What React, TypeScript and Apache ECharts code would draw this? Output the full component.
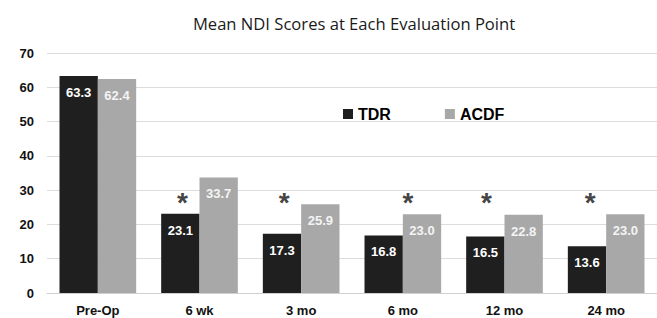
import React, { useEffect, useRef } from "react";
import * as echarts from "echarts";

const categories = ["Pre-Op", "6 wk", "3 mo", "6 mo", "12 mo", "24 mo"];
const tdrValues = [63.3, 23.1, 17.3, 16.8, 16.5, 13.6];
const acdfValues = [62.4, 33.7, 25.9, 23.0, 22.8, 23.0];
const significantPoints = ["6 wk", "3 mo", "6 mo", "12 mo", "24 mo"];
const asteriskLevel = 26.3;
const asteriskShift = [-17, -17, 5, -18, -16];

export default function App() {
  const ref = useRef<HTMLDivElement>(null);
  useEffect(() => {
    if (!ref.current) return;
    const chart = echarts.init(ref.current, null, { renderer: "svg" });
    chart.setOption({
      animation: false,
      backgroundColor: "#ffffff",
      title: {
        text: "Mean NDI Scores at Each Evaluation Point",
        left: 349,
        top: 10,
        textAlign: "center",
        textStyle: { fontFamily: "Open Sans", fontSize: 16.6, fontWeight: "normal", color: "#1a1a1a" },
      },
      legend: {
        data: ["TDR", "ACDF"],
        left: 338,
        top: 101,
        icon: "rect",
        itemWidth: 10,
        itemHeight: 10,
        itemGap: 54,
        textStyle: { fontFamily: "Liberation Sans", fontSize: 16, fontWeight: 700, color: "#000" },
      },
      grid: { left: 47, right: 0, top: 53, bottom: 25 },
      xAxis: {
        type: "category",
        data: categories,
        axisLine: { show: true, lineStyle: { color: "#d0d0d0" } },
        axisTick: { show: false },
        axisLabel: {
          margin: 11,
          fontFamily: "Liberation Sans",
          fontSize: 13,
          fontWeight: "bold",
          color: "#111",
        },
      },
      yAxis: {
        type: "value",
        min: 0,
        max: 70,
        interval: 10,
        axisLine: { show: false },
        axisTick: { show: false },
        splitLine: { lineStyle: { color: "#dcdcdc" } },
        axisLabel: {
          margin: 13,
          fontFamily: "Liberation Sans",
          fontSize: 13,
          fontWeight: "bold",
          color: "#111",
        },
      },
      series: [
        {
          name: "TDR",
          type: "bar",
          data: tdrValues,
          barGap: "0%",
          barCategoryGap: "24.6%",
          itemStyle: { color: "#1f1f1f" },
          label: {
            show: true,
            position: "insideTop",
            distance: 10,
            formatter: (p: any) => p.value.toFixed(1),
            fontFamily: "Liberation Sans",
            fontSize: 13,
            fontWeight: "bold",
            color: "#ffffff",
          },
        },
        {
          name: "ACDF",
          type: "bar",
          data: acdfValues,
          barGap: "0%",
          barCategoryGap: "24.6%",
          itemStyle: { color: "#a8a8a8" },
          label: {
            show: true,
            position: "insideTop",
            distance: 10,
            formatter: (p: any) => p.value.toFixed(1),
            fontFamily: "Liberation Sans",
            fontSize: 13,
            fontWeight: "bold",
            color: "#f4f4f4",
          },
        },
        {
          name: "sig",
          type: "scatter",
          symbolSize: 0,
          silent: true,
          data: significantPoints.map((c, i) => ({
            value: [c, asteriskLevel],
            label: { offset: [asteriskShift[i], 0] },
          })),
          label: {
            show: true,
            position: "inside",
            formatter: "*",
            fontFamily: "Liberation Sans",
            fontSize: 28,
            fontWeight: "bold",
            color: "#111",
          },
        },
      ],
    });
    return () => chart.dispose();
  }, []);
  return <div ref={ref} style={{ width: 657, height: 318, position: "absolute", left: 0, top: 0 }} />;
}
